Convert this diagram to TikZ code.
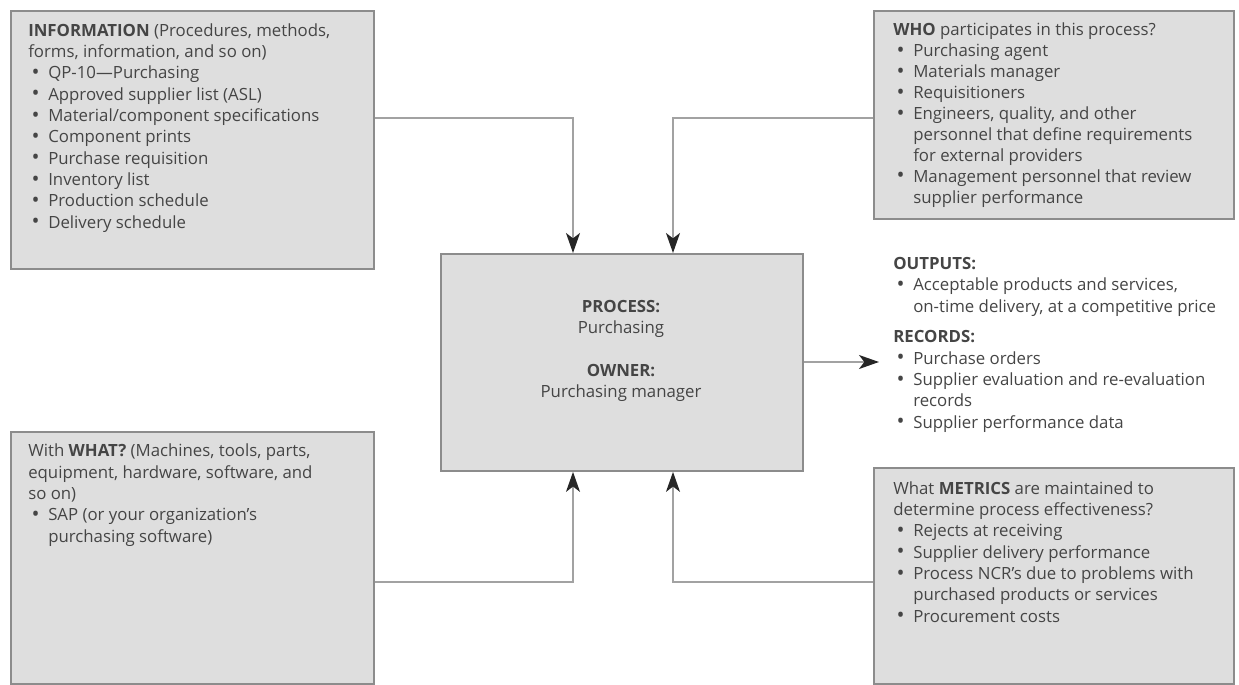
\documentclass[tikz,border=0pt]{standalone}
\usepackage{fontspec}
\setmainfont{Open Sans}
\usetikzlibrary{arrows.meta,calc}
\definecolor{boxfill}{HTML}{DEDEDE}
\definecolor{boxline}{HTML}{8C8C8C}
\definecolor{connline}{HTML}{A2A2A2}
\definecolor{txt}{HTML}{454545}
\newcommand{\bl}{\makebox[15pt][l]{\hspace{2.6pt}\raisebox{-0.6pt}{\fontsize{16}{16}\selectfont\textbullet}}}
\newcommand{\ind}{\hspace*{15pt}}
\tikzset{
  box/.style={draw=boxline, fill=boxfill, line width=1.4pt, inner sep=0pt, anchor=north west},
  txtnode/.style={anchor=base west, inner sep=0pt, align=left, text=txt, font=\fontsize{12.6}{16}\selectfont},
  ctxt/.style={anchor=base, inner sep=0pt, align=center, text=txt, font=\fontsize{12.6}{15.4}\selectfont},
  conn/.style={draw=connline, line width=1.1pt, -{Stealth[length=15pt,width=10.5pt,inset=4pt,color=black!85]}}
}
\begin{document}
\begin{tikzpicture}[x=0.75pt,y=-0.75pt]
\useasboundingbox (0,0) rectangle (1239,685);
% boxes
\node[box, minimum width=272.25pt, minimum height=193.5pt] (info) at (10,10) {};
\node[box, minimum width=270pt, minimum height=156pt] (who) at (873,10) {};
\node[box, minimum width=272.25pt, minimum height=189pt] (what) at (10,431) {};
\node[box, minimum width=270pt, minimum height=162pt] (metrics) at (873,467) {};
\node[box, minimum width=271.5pt, minimum height=162.75pt] (proc) at (440,253) {};
% texts (anchored at the baseline of their last line)
\node[txtnode] (infotxt) at (28,228) {\textbf{INFORMATION} (Procedures, methods,\\
forms, information, and so on)\\
\bl QP-10---Purchasing\\
\bl Approved supplier list (ASL)\\
\bl Material/component specifications\\
\bl Component prints\\
\bl Purchase requisition\\
\bl Inventory list\\
\bl Production schedule\\
\bl Delivery schedule};
\node[txtnode, font=\fontsize{12.6}{15.7}\selectfont] (whotxt) at (893,203) {\textbf{WHO} participates in this process?\\
\bl Purchasing agent\\
\bl Materials manager\\
\bl Requisitioners\\
\bl Engineers, quality, and other\\
\ind personnel that define requirements\\
\ind for external providers\\
\bl Management personnel that review\\
\ind supplier performance};
\node[txtnode] (whattxt) at (28,542) {With \textbf{WHAT?} (Machines, tools, parts,\\
equipment, hardware, software, and\\
so on)\\
\bl SAP (or your organization's\\
\ind purchasing software)};
\node[txtnode] (mettxt) at (893,622) {What \textbf{METRICS} are maintained to\\
determine process effectiveness?\\
\bl Rejects at receiving\\
\bl Supplier delivery performance\\
\bl Process NCR's due to problems with\\
\ind purchased products or services\\
\bl Procurement costs};
\node[txtnode] (outtxt) at (893,312) {\textbf{OUTPUTS:}\\
\bl Acceptable products and services,\\
\ind on-time delivery, at a competitive price};
\node[txtnode] (rectxt) at (893,428) {\textbf{RECORDS:}\\
\bl Purchase orders\\
\bl Supplier evaluation and re-evaluation\\
\ind records\\
\bl Supplier performance data};
\node[ctxt] (ptxt) at (621,333) {\textbf{PROCESS:}\\Purchasing};
\node[ctxt] (otxt) at (621,397) {\textbf{OWNER:}\\Purchasing manager};
% connectors
\coordinate (c1) at (573,118);
\coordinate (c2) at (673,118);
\coordinate (c3) at (573,582);
\coordinate (c4) at (673,582);
\coordinate (c5) at (879,362);
\draw[conn] (c1 -| info.east) -- (c1) -- (c1 |- proc.north);
\draw[conn] (c2 -| who.west) -- (c2) -- (c2 |- proc.north);
\draw[conn] (c3 -| what.east) -- (c3) -- (c3 |- proc.south);
\draw[conn] (c4 -| metrics.west) -- (c4) -- (c4 |- proc.south);
\draw[conn] (c5 -| proc.east) -- (c5);
\end{tikzpicture}
\end{document}
